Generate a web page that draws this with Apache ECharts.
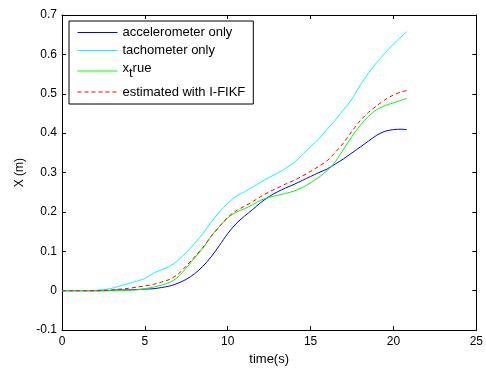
<!DOCTYPE html>
<html>
<head>
<meta charset="utf-8">
<script src="https://cdn.jsdelivr.net/npm/echarts@6/dist/echarts.min.js"></script>
<style>html,body{margin:0;padding:0;background:#fff;}#c{width:486px;height:371px;}</style>
</head>
<body>
<div id="c"></div>
<script>
var time = [0,0.5,1,1.5,2,2.5,3,3.5,4,4.5,5,5.5,6,6.5,7,7.5,8,8.5,9,9.5,10,10.5,11,11.5,12,12.5,13,13.5,14,14.5,15,15.5,16,16.5,17,17.5,18,18.5,19,19.5,20,20.5,20.8];
var accelerometer = [0,0,0,0,0,0,0.001,0.002,0.002,0.003,0.004,0.005,0.008,0.012,0.019,0.029,0.043,0.062,0.086,0.115,0.145,0.17,0.189,0.206,0.224,0.239,0.251,0.261,0.27,0.28,0.29,0.3,0.309,0.322,0.335,0.35,0.365,0.38,0.395,0.405,0.409,0.41,0.409];
var tachometer = [0,0,0,0,0.001,0.003,0.006,0.012,0.018,0.024,0.031,0.044,0.053,0.062,0.077,0.097,0.12,0.145,0.174,0.2,0.222,0.24,0.251,0.263,0.276,0.288,0.298,0.311,0.325,0.345,0.366,0.386,0.41,0.434,0.46,0.487,0.522,0.553,0.58,0.604,0.626,0.646,0.658];
var xTrue = [0,0,0,0,0,0,0,0,0.001,0.002,0.005,0.009,0.014,0.021,0.035,0.058,0.083,0.108,0.138,0.163,0.185,0.199,0.208,0.218,0.23,0.237,0.242,0.247,0.253,0.262,0.274,0.288,0.305,0.328,0.36,0.392,0.42,0.443,0.46,0.47,0.477,0.484,0.488];
var estimated = [0,0,0,0,0,0.001,0.002,0.004,0.006,0.009,0.012,0.016,0.022,0.029,0.042,0.063,0.086,0.11,0.138,0.163,0.186,0.203,0.214,0.226,0.239,0.251,0.261,0.271,0.28,0.291,0.303,0.316,0.33,0.352,0.376,0.405,0.432,0.453,0.47,0.485,0.497,0.505,0.508];
var xTicks = {min:0, max:25, interval:5};
var yTicks = {min:-0.1, max:0.7, interval:0.1};
var names = ['accelerometer only','tachometer only','x_true','estimated with I-FIKF'];
var colors = ['#0000ff','#00ffff','#00ff00','#ff0000'];
var dashed = [false,false,false,true];

function pairs(v){ return time.map(function(t,i){ return [t, v[i]]; }); }

// dashed legend sample shape (40x14 box, 1px dashes on the middle row)
function dashIcon(){
  var p = 'path://M0,0L0.01,0L0.01,0.01L0,0.01Z M39.99,13.99L40,13.99L40,14L39.99,14Z';
  for (var x = 0; x < 40; x += 7) {
    var e = Math.min(x + 4, 40);
    p += ' M' + x + ',6.5L' + e + ',6.5L' + e + ',7.5L' + x + ',7.5Z';
  }
  return p;
}

var chart = echarts.init(document.getElementById('c'), null, {renderer:'canvas'});
var font = 'Arial, "Liberation Sans", sans-serif';
function axisBase(extra){
  var o = {
    type:'value',
    axisLine:{show:true, onZero:false, lineStyle:{color:'#000', width:1}},
    axisTick:{show:true, inside:true, length:4, lineStyle:{color:'#000'}},
    splitLine:{show:false},
    axisLabel:{color:'#000', fontSize:12, fontFamily:font}
  };
  for (var k in extra) o[k]=extra[k];
  return o;
}
function lineSeries(i, data){
  return {
    type:'line', name:names[i], data:pairs(data), symbol:'none', smooth:0.3,
    xAxisIndex:0, yAxisIndex:0, animation:false, color:colors[i],
    lineStyle:{color:colors[i], width:1, type: dashed[i] ? [4,3] : 'solid'},
    itemStyle:{color:colors[i]}
  };
}
chart.setOption({
  animation:false,
  color:colors,
  backgroundColor:'#fff',
  grid:{left:62, right:4, top:15, bottom:37},
  xAxis:[
    axisBase({min:xTicks.min, max:xTicks.max, interval:xTicks.interval, position:'bottom',
      name:'time(s)', nameLocation:'middle', nameGap:20,
      nameTextStyle:{color:'#000', fontSize:13, fontFamily:font},
      axisLabel:{color:'#000', fontSize:12, fontFamily:font, margin:6}}),
    axisBase({min:xTicks.min, max:xTicks.max, interval:xTicks.interval, position:'top',
      axisLabel:{show:false}})
  ],
  yAxis:[
    axisBase({min:yTicks.min, max:yTicks.max, interval:yTicks.interval, position:'left',
      name:'X (m)', nameLocation:'middle', nameGap:31,
      nameTextStyle:{color:'#000', fontSize:12, fontFamily:font},
      axisLabel:{color:'#000', fontSize:12, fontFamily:font, margin:5,
        formatter:function(v){ return String(Math.round(v*10)/10); }}}),
    axisBase({min:yTicks.min, max:yTicks.max, interval:yTicks.interval, position:'right',
      axisLabel:{show:false}})
  ],
  legend:{
    orient:'vertical', left:69, top:21,
    backgroundColor:'#fff', borderColor:'#000', borderWidth:1, borderRadius:0,
    padding:[5,8,5,8], itemGap:5, itemWidth:40, itemHeight:14,
    data:names.map(function(n,i){
      if (dashed[i]) {
        return {name:n, icon:dashIcon(),
          itemStyle:{color:colors[i], opacity:1, borderWidth:0, borderColor:'transparent'}};
      }
      return {name:n,
        itemStyle:{color:colors[i], opacity:0},
        lineStyle:{color:colors[i], width:1, type:'solid', opacity:1}};
    }),
    textStyle:{color:'#000', fontSize:13, fontFamily:font,
      rich:{
        a:{color:'#000', fontSize:13, fontFamily:font, verticalAlign:'top', padding:[0,0,5,0]},
        b:{color:'#000', fontSize:13, fontFamily:font, verticalAlign:'top', padding:[5,0,0,0]}
      }},
    formatter:function(n){ return n==='x_true' ? '{a|x}{b|t}{a|rue}' : n; }
  },
  series:[
    lineSeries(0, accelerometer),
    lineSeries(1, tachometer),
    lineSeries(2, xTrue),
    lineSeries(3, estimated)
  ]
});
</script>
</body>
</html>
